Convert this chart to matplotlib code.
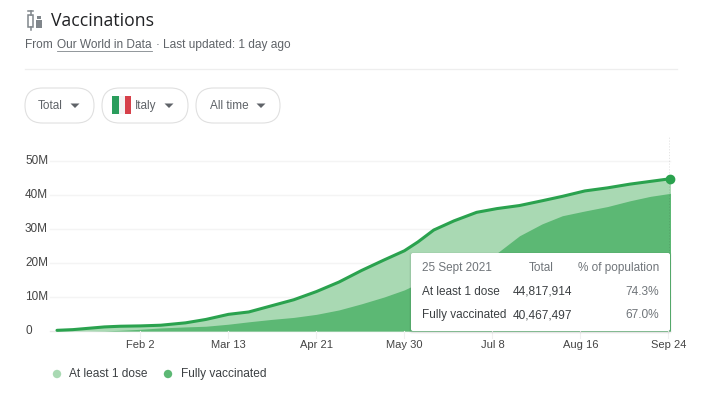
import matplotlib
matplotlib.use('Agg')
import matplotlib.pyplot as plt
from matplotlib.patches import FancyBboxPatch, Rectangle, Circle, Polygon

# days since 27 Dec 2020
days = [0, 7, 14, 21, 28, 37, 46, 57, 66, 76, 85, 95, 105, 115, 125, 135, 145, 154, 160, 167, 176, 186, 195, 205, 215, 224, 234, 244, 254, 263, 272]
dose1 = [0.2, 0.4, 0.8, 1.2, 1.4, 1.5, 1.7, 2.4, 3.4, 4.9, 5.6, 7.4, 9.2, 11.6, 14.4, 17.8, 20.9, 23.6, 26.2, 29.7, 32.4, 34.9, 36.0, 36.9, 38.3, 39.6, 41.2, 42.1, 43.2, 44.0, 44.8]
dose2 = [0.0, 0.0, 0.0, 0.05, 0.2, 0.5, 0.9, 1.2, 1.4, 2.0, 2.7, 3.4, 4.0, 4.9, 6.2, 8.0, 10.0, 12.1, 14.0, 15.6, 17.8, 20.4, 22.9, 28.0, 31.5, 33.9, 35.3, 36.6, 38.3, 39.6, 40.5]

y_ticks = [0, 10, 20, 30, 40, 50]
y_labels = ['0', '10M', '20M', '30M', '40M', '50M']
x_ticks = [37, 76, 115, 154, 193, 232, 271]
x_labels = ['Feb 2', 'Mar 13', 'Apr 21', 'May 30', 'Jul 8', 'Aug 16', 'Sep 24']

W, H = 712, 393
LIGHT = '#a9d9b3'
DARK = '#5cb874'
LINE = '#2aa24e'
GREY = '#5f6368'

plt.rcParams['font.family'] = ['Liberation Sans', 'DejaVu Sans']

fig = plt.figure(figsize=(W / 100, H / 100), dpi=100)

# chart axes, placed in pixels
left, right, top, bottom = 57, 669.5, 137, 331
ax = fig.add_axes([left / W, 1 - bottom / H, (right - left) / W, (bottom - top) / H])
ax.set_xlim(0, 271.5)
ax.set_ylim(0, (bottom - top) / 3.4)
ax.axis('off')
for t in y_ticks[1:]:
    ax.plot([-3, 271.5], [t, t], color='#f4f4f4', lw=1, clip_on=False, zorder=0)
ax.plot([-3, 271.5], [0, 0], color='#e8e8e8', lw=1, clip_on=False, zorder=0)
ax.fill_between(days, dose1, color=LIGHT, lw=0, zorder=1)
ax.fill_between(days, dose2, color=DARK, lw=0, zorder=2)
ax.plot(days, dose1, color=LINE, lw=2.2, zorder=3, solid_capstyle='round', clip_on=False)
ax.plot([271.5, 271.5], [0, 57], color='#333333', lw=0.9, ls=(0, (1, 1.3)), zorder=3)
ax.plot([271.5], [44.8], 'o', color=LINE, ms=6, zorder=6, clip_on=False)

# pixel overlay for labels and page furniture
ui = fig.add_axes([0, 0, 1, 1])
ui.set_xlim(0, W)
ui.set_ylim(H, 0)
ui.axis('off')
ui.patch.set_alpha(0)

for t, lab in zip(y_ticks, y_labels):
    ui.text(25, bottom - t * 3.4, lab, fontsize=8.5, color='#444444', va='center', ha='left')
for d, lab in zip(x_ticks, x_labels):
    px = left + d * (right - left) / 271.5
    ui.plot([px, px], [331, 338], color='#f0f0f0', lw=0.8, zorder=1)
    ui.text(px, 345, lab, fontsize=8, color='#444444', va='center', ha='center')

# header
ui.text(51, 21, 'Vaccinations', fontsize=12.7, color='#202124', va='center', family=['Open Sans', 'DejaVu Sans'])
ui.text(25, 45, 'From', fontsize=8.6, color=GREY, va='center')
ui.text(57, 45, 'Our World in Data', fontsize=8.6, color=GREY, va='center')
ui.plot([57, 152], [51, 51], color='#80868b', lw=0.6)
ui.text(156, 45, '·', fontsize=8.6, color=GREY, va='center')
ui.text(163, 45, 'Last updated: 1 day ago', fontsize=8.6, color=GREY, va='center')
ui.plot([25, 677], [69, 69], color='#eeeeee', lw=0.9)

# syringe and vial icon
ui.add_patch(Rectangle((28, 15), 5, 12, fc='none', ec='#80868b', lw=1.1))
ui.plot([30.5, 30.5], [11, 15], color='#80868b', lw=1.1)
ui.plot([28, 33], [11, 11], color='#80868b', lw=1.1)
ui.plot([30.5, 30.5], [27, 30], color='#80868b', lw=1.1)
ui.add_patch(Rectangle((36, 20), 6, 8, fc='#80868b', ec='none'))
ui.add_patch(Rectangle((37, 16), 4, 3, fc='#80868b', ec='none'))

# filter pills
for x0, x1 in [(25, 94), (102, 188), (196, 280)]:
    ui.add_patch(FancyBboxPatch((x0 + 17.5, 105.5), x1 - x0 - 35, 0.01,
                                boxstyle='round,pad=17.5,rounding_size=17.5', fc='white', ec='#e0e0e0', lw=0.8))
for x, lab in [(38, 'Total'), (135, 'Italy'), (210, 'All time')]:
    ui.text(x, 106, lab, fontsize=8.5, color=GREY, va='center')
for x in [75, 169, 261]:
    ui.add_patch(Polygon([(x - 4.5, 103.5), (x + 4.5, 103.5), (x, 108)], fc=GREY, ec='none'))
ui.add_patch(Rectangle((112, 96), 6.5, 18, fc='#2a9d5c', ec='none'))
ui.add_patch(Rectangle((118.5, 96), 6, 18, fc='#f4f4f4', ec='none'))
ui.add_patch(Rectangle((124.5, 96), 6.5, 18, fc='#d6404a', ec='none'))

# hover tooltip
for i, a in [(2, 0.03), (1, 0.05)]:
    ui.add_patch(FancyBboxPatch((411 - i, 253 - i + 1), 259 + 2 * i, 78 + 2 * i,
                                boxstyle='round,pad=0,rounding_size=3', fc='black', ec='none', alpha=a, zorder=4))
ui.add_patch(FancyBboxPatch((411, 253), 259, 78, boxstyle='round,pad=0,rounding_size=2', fc='white', ec='none', zorder=5))
ui.text(422, 268, '25 Sept 2021', fontsize=8.5, color='#70757a', va='center', zorder=6)
ui.text(554, 268, 'Total', fontsize=8.5, color='#70757a', va='center', ha='right', zorder=6)
ui.text(659, 268, '% of population', fontsize=8.5, color='#70757a', va='center', ha='right', zorder=6)
ui.text(422, 292, 'At least 1 dose', fontsize=8.5, color='#3c4043', va='center', zorder=6)
ui.text(572, 292, '44,817,914', fontsize=8.6, color='#3c4043', va='center', ha='right', zorder=6)
ui.text(659, 292, '74.3%', fontsize=8.6, color='#70757a', va='center', ha='right', zorder=6)
ui.text(422, 315, 'Fully vaccinated', fontsize=8.5, color='#3c4043', va='center', zorder=6)
ui.text(572, 315, '40,467,497', fontsize=8.6, color='#3c4043', va='center', ha='right', zorder=6)
ui.text(659, 315, '67.0%', fontsize=8.6, color='#70757a', va='center', ha='right', zorder=6)

# legend
ui.add_patch(Circle((57, 374), 4.2, fc=LIGHT, ec='none'))
ui.text(69, 374, 'At least 1 dose', fontsize=8.6, color='#3c4043', va='center')
ui.add_patch(Circle((168, 374), 4.2, fc=DARK, ec='none'))
ui.text(181, 374, 'Fully vaccinated', fontsize=8.6, color='#3c4043', va='center')

fig.savefig('out.png', dpi=100)
